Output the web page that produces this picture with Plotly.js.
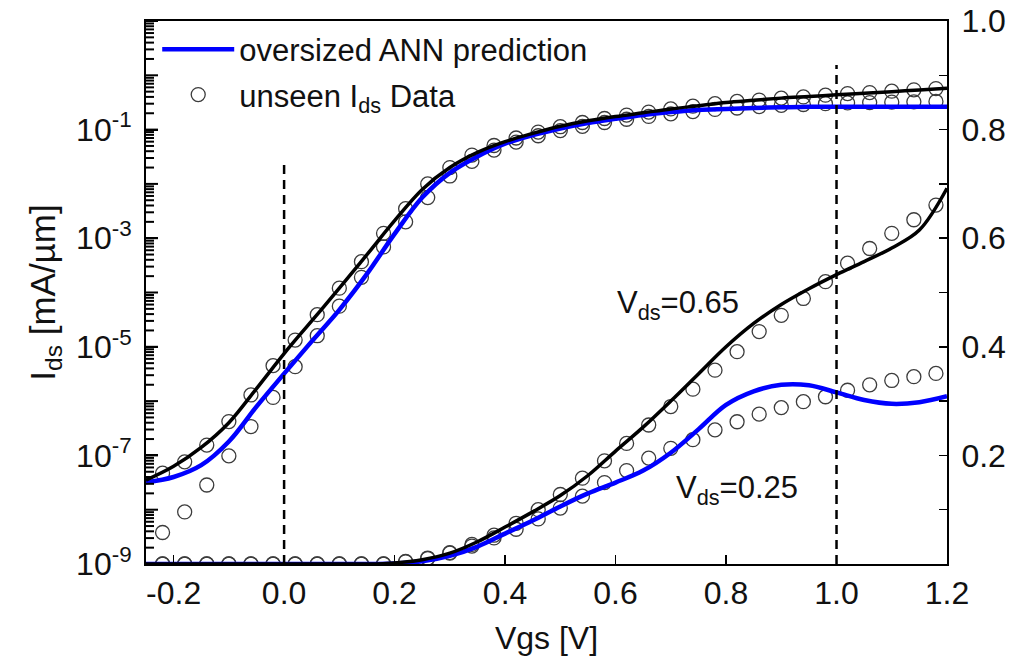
<!DOCTYPE html>
<html>
<head>
<meta charset="utf-8">
<script src="https://cdn.plot.ly/plotly-3.0.1.min.js"></script>
<style>html,body{margin:0;padding:0;background:#fff;}#chart{width:1030px;height:665px;}</style>
</head>
<body>
<div id="chart"></div>
<script>
// ---- Data ----
// Fitted-curve grid (Vgs, V)
const vgsFit = [-0.25,-0.2,-0.15,-0.1,-0.05,0,0.05,0.1,0.15,0.2,0.25,0.3,0.35,0.4,0.45,0.5,0.55,0.6,0.65,0.7,0.75,0.8,0.85,0.9,0.95,1.0,1.05,1.1,1.15,1.2];
// Black curve, Vds=0.65, log scale (mA/um)
const blackLog = [3.5e-8,6.3e-8,1.4e-7,4.0e-7,1.7e-6,7.5e-6,3.0e-5,1.2e-4,5.0e-4,2.1e-3,7.9e-3,2.0e-2,3.8e-2,6.0e-2,8.5e-2,0.115,0.145,0.174,0.204,0.24,0.275,0.316,0.347,0.38,0.407,0.437,0.468,0.5,0.537,0.575];
// Blue curve (oversized ANN), Vds=0.25, log scale
const blueLog = [3.2e-8,4.0e-8,6.6e-8,1.8e-7,7.9e-7,3.2e-6,1.26e-5,4.8e-5,2.2e-4,1.2e-3,5.6e-3,1.6e-2,3.2e-2,5.5e-2,7.9e-2,0.105,0.132,0.158,0.186,0.21,0.23,0.24,0.25,0.257,0.263,0.263,0.263,0.263,0.263,0.263];
// Black curve, Vds=0.65, linear scale (right axis)
const blackLin = [0,0,0,0,0,0,0,0,0,0.002,0.008,0.020,0.041,0.068,0.096,0.126,0.163,0.208,0.252,0.300,0.350,0.400,0.443,0.478,0.507,0.533,0.557,0.582,0.615,0.692];
// Blue curve (oversized ANN), Vds=0.25, linear scale (right axis)
const blueLin = [0,0,0,0,0,0,0,0,0,0.001,0.005,0.015,0.032,0.056,0.080,0.106,0.130,0.150,0.172,0.205,0.248,0.293,0.318,0.330,0.329,0.316,0.302,0.295,0.298,0.309];

// Measured (unseen) data grid
const vgsData = [-0.22,-0.18,-0.14,-0.10,-0.06,-0.02,0.02,0.06,0.10,0.14,0.18,0.22,0.26,0.30,0.34,0.38,0.42,0.46,0.50,0.54,0.58,0.62,0.66,0.70,0.74,0.78,0.82,0.86,0.90,0.94,0.98,1.02,1.06,1.10,1.14,1.18];
const data065Log = [4.7e-8,7.6e-8,1.55e-7,4.2e-7,1.3e-6,4.5e-6,1.33e-5,3.9e-5,1.2e-4,3.7e-4,1.23e-3,3.5e-3,1.0e-2,2.0e-2,3.4e-2,5.1e-2,7.0e-2,9.0e-2,0.113,0.135,0.16,0.185,0.21,0.24,0.27,0.3,0.33,0.35,0.38,0.4,0.43,0.46,0.48,0.51,0.54,0.57];
const data025Log = [3.8e-9,9.1e-9,2.85e-8,9.8e-8,3.4e-7,1.17e-6,4.3e-6,1.6e-5,5.6e-5,1.9e-4,6.9e-4,2.0e-3,5.6e-3,1.4e-2,2.6e-2,4.2e-2,5.9e-2,7.7e-2,9.6e-2,0.115,0.135,0.155,0.175,0.195,0.215,0.235,0.25,0.265,0.28,0.29,0.3,0.31,0.315,0.32,0.325,0.33];
const data065Lin = [0,0,0,0,0,0,0,0,0,0,0,0.005,0.011,0.021,0.036,0.053,0.075,0.100,0.128,0.158,0.190,0.222,0.256,0.290,0.322,0.357,0.391,0.428,0.458,0.489,0.520,0.554,0.581,0.609,0.634,0.661];
const data025Lin = [0,0,0,0,0,0,0,0,0,0,0,0.004,0.010,0.020,0.033,0.048,0.064,0.083,0.103,0.125,0.150,0.172,0.195,0.213,0.229,0.247,0.262,0.276,0.288,0.299,0.308,0.320,0.330,0.338,0.345,0.351];

// Tick labels
const xTicks = [-0.2,0.0,0.2,0.4,0.6,0.8,1.0,1.2];
const xTickText = ['-0.2','0.0','0.2','0.4','0.6','0.8','1.0','1.2'];
const yLogTickVals = [10,0.1,1e-3,1e-5,1e-7,1e-9];
const yLogTickText = ['10<sup>1</sup>','10<sup>-1</sup>','10<sup>-3</sup>','10<sup>-5</sup>','10<sup>-7</sup>','10<sup>-9</sup>'];
const yLinTicks = [0.2,0.4,0.6,0.8,1.0];
const guideX = [0.0, 1.0];
const guideTop = [0.744, 0.919];

// ---- Styles ----
const FONT = 'Liberation Sans, Arial, Helvetica, sans-serif';
const BLUE = '#0000ff';
const circ = {symbol:'circle-open', size:14, color:'#3c3c3c', line:{width:1.3, color:'#3c3c3c'}};
const PLOT_W = 1030 - 146 - 83;   // plot-area width in px
const LOG_MIN = -9, LOG_MAX = 1;

const traces = [
  {x:vgsData, y:data065Log, yaxis:'y', mode:'markers', marker:circ, name:'unseen I<sub>ds</sub> Data', legendgroup:'d', legendrank:2, showlegend:true},
  {x:vgsData, y:data025Log, yaxis:'y', mode:'markers', marker:circ, legendgroup:'d', showlegend:false},
  {x:vgsData, y:data065Lin, yaxis:'y2', mode:'markers', marker:circ, legendgroup:'d', showlegend:false},
  {x:vgsData, y:data025Lin, yaxis:'y2', mode:'markers', marker:circ, legendgroup:'d', showlegend:false},
  {x:vgsFit, y:blueLog, yaxis:'y', mode:'lines', line:{color:BLUE, width:4.5, shape:'spline'}, name:'oversized ANN prediction', legendgroup:'a', legendrank:1, showlegend:true},
  {x:vgsFit, y:blueLin, yaxis:'y2', mode:'lines', line:{color:BLUE, width:4.5, shape:'spline'}, legendgroup:'a', showlegend:false},
  {x:vgsFit, y:blackLog, yaxis:'y', mode:'lines', line:{color:'#000', width:3.5, shape:'spline'}, showlegend:false},
  {x:vgsFit, y:blackLin, yaxis:'y2', mode:'lines', line:{color:'#000', width:3.5, shape:'spline'}, showlegend:false}
];

// Dashed guide lines
const shapes = guideX.map((gx, i) => ({
  type:'line', xref:'x', yref:'y2', x0:gx, x1:gx, y0:0, y1:guideTop[i],
  line:{color:'#000', width:2.5, dash:'9px,6px'}
}));
// Log-axis tick comb (axis decoration): 1..9 x 10^e on the left edge, inside
for (let e = LOG_MIN; e < LOG_MAX; e++) {
  for (let m = 1; m <= 9; m++) {
    const frac = (e + Math.log10(m) - LOG_MIN) / (LOG_MAX - LOG_MIN);
    const len = m === 1 ? 12 : 8;
    shapes.push({type:'line', xref:'paper', yref:'paper', x0:0, x1:len / PLOT_W, y0:frac, y1:frac,
                 line:{color:'#000', width:2}});
  }
}
shapes.push({type:'line', xref:'paper', yref:'paper', x0:0, x1:12 / PLOT_W, y0:1, y1:1, line:{color:'#000', width:2}});

const TICKFONT = {family:FONT, size:32, color:'#111'};

const layout = {
  width:1030, height:665,
  margin:{l:146, r:83, t:21, b:101},
  paper_bgcolor:'#fff', plot_bgcolor:'#fff',
  font:{family:FONT, size:30, color:'#111'},
  showlegend:true,
  legend:{x:0.014, y:0.997, xanchor:'left', yanchor:'top', bgcolor:'rgba(0,0,0,0)', borderwidth:0,
          font:{family:FONT, size:31, color:'#111'}, itemwidth:72, traceorder:'grouped', tracegroupgap:2},
  xaxis:{range:[-0.25,1.2], tickmode:'array', tickvals:xTicks, ticktext:xTickText,
         ticks:'inside', ticklen:9, tickwidth:1.5, tickcolor:'#000',
         showline:true, linecolor:'#000', linewidth:2, mirror:true, showgrid:false, zeroline:false,
         tickfont:TICKFONT,
         title:{text:'Vgs [V]', font:{family:FONT, size:32, color:'#111'}, standoff:16}},
  yaxis:{type:'log', range:[LOG_MIN, LOG_MAX], tickmode:'array', tickvals:yLogTickVals, ticktext:yLogTickText,
         ticks:'inside', ticklen:12, tickwidth:2, tickcolor:'#000',
         showline:true, linecolor:'#000', linewidth:2, showgrid:false, zeroline:false,
         tickfont:TICKFONT, ticklabelstandoff:6,
         title:{text:'I<sub>ds</sub> [mA/µm]', font:{family:FONT, size:35, color:'#111'}, standoff:10}},
  yaxis2:{overlaying:'y', side:'right', range:[0,1], tickmode:'array', tickvals:yLinTicks, tickformat:'.1f',
          ticks:'inside', ticklen:8, tickwidth:1.5, tickcolor:'#000',
          minor:{ticks:'inside', ticklen:8, tickwidth:1.5, tickcolor:'#000', dtick:0.1, showgrid:false},
          showline:true, linecolor:'#000', linewidth:2, showgrid:false, zeroline:false,
          tickfont:TICKFONT, ticklabelstandoff:6},
  shapes:shapes,
  annotations:[
    {xref:'x', yref:'y2', x:0.713, y:0.477, text:'V<sub>ds</sub>=0.65', showarrow:false,
     font:{family:FONT, size:31, color:'#111'}},
    {xref:'x', yref:'y2', x:0.819, y:0.136, text:'V<sub>ds</sub>=0.25', showarrow:false,
     font:{family:FONT, size:31, color:'#111'}}
  ]
};

Plotly.newPlot('chart', traces, layout, {displayModeBar:false, staticPlot:true});
</script>
</body>
</html>
